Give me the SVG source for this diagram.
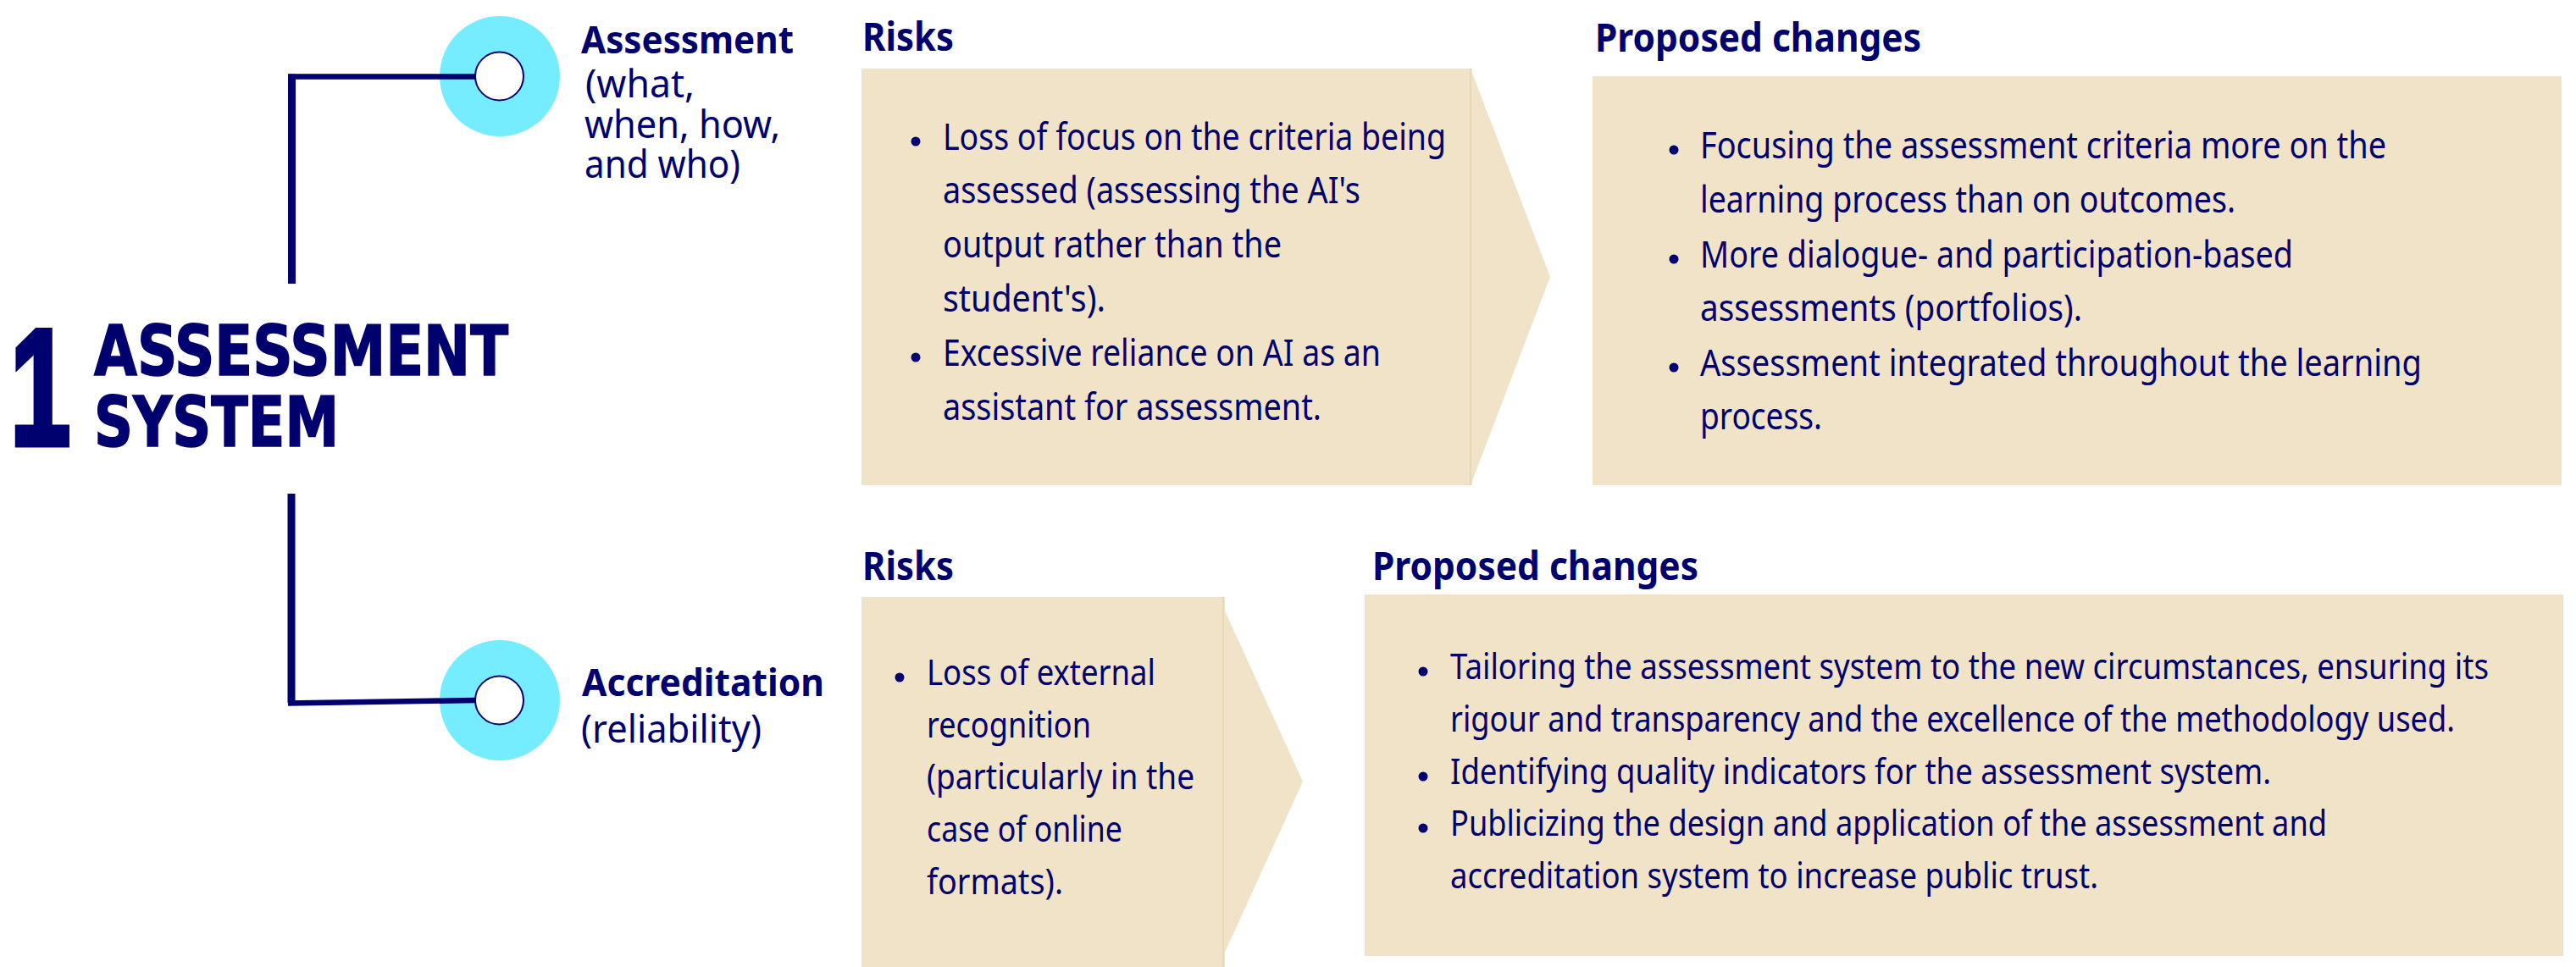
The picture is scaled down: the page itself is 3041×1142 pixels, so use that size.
<svg xmlns="http://www.w3.org/2000/svg" width="3041" height="1142" viewBox="0 0 3041 1142">
<style>
.bg{fill:#ffffff}
.box{fill:#F0E3C7}
.seam{stroke:#E9D8B4;stroke-width:2;fill:none}
.ink{fill:#00006F}
.body{font-family:"Noto Sans","Open Sans","DejaVu Sans",sans-serif;font-stretch:semi-condensed;fill:#00006F}
.b43{font-size:43px}
.b41{font-size:41px}
.head{font-family:"Noto Sans","Open Sans","DejaVu Sans",sans-serif;font-stretch:semi-condensed;font-weight:bold;font-size:46px;fill:#00006F}
.lab{font-family:"Noto Sans","Open Sans","DejaVu Sans",sans-serif;font-stretch:semi-condensed;font-size:45px;fill:#00006F}
.labb{font-weight:bold}
.title{font-family:"DejaVu Sans","Liberation Sans",sans-serif;font-stretch:condensed;font-weight:900;font-size:82px;fill:#00006F;stroke:#00006F;stroke-width:1.5}
.num{font-family:"Liberation Sans","Arial",sans-serif;font-weight:bold;font-size:194px;fill:#00006F;stroke:#00006F;stroke-width:7;stroke-linejoin:miter}
.halo{fill:#75EDFF}
.hole{fill:#ffffff;stroke:#00006F;stroke-width:2}
.conn{stroke:#00006F;fill:none}
</style>
<rect class="bg" x="0" y="0" width="3041" height="1142"/>

<g id="connectors">
  <line class="conn" x1="344.5" y1="87.5" x2="344.5" y2="335" stroke-width="9"/>
  <line class="conn" x1="340" y1="90.5" x2="562" y2="90.5" stroke-width="6.5"/>
  <line class="conn" x1="344" y1="583" x2="344" y2="830" stroke-width="9"/>
  <line class="conn" x1="340" y1="830.5" x2="562" y2="827" stroke-width="6.5"/>
</g>

<g id="title">
  <text class="num" x="0" y="525" transform="translate(12,0) scale(0.66,1)">1</text>
  <text class="title" x="111" y="443" textLength="489" lengthAdjust="spacingAndGlyphs">ASSESSMENT</text>
  <text class="title" x="111" y="527" textLength="289" lengthAdjust="spacingAndGlyphs">SYSTEM</text>
</g>

<g id="node-assessment">
  <circle class="halo" cx="590" cy="90" r="71"/>
  <line class="conn" x1="519" y1="90.5" x2="562" y2="90.5" stroke-width="6.5"/>
  <circle class="hole" cx="589.5" cy="90" r="28.5"/>
  <text class="lab labb" x="686" y="63" textLength="251" lengthAdjust="spacingAndGlyphs">Assessment</text>
  <text class="lab" x="691" y="115" textLength="129" lengthAdjust="spacingAndGlyphs">(what,</text>
  <text class="lab" x="690" y="163" textLength="231" lengthAdjust="spacingAndGlyphs">when, how,</text>
  <text class="lab" x="690" y="210" textLength="184" lengthAdjust="spacingAndGlyphs">and who)</text>
</g>

<g id="node-accreditation">
  <circle class="halo" cx="590" cy="827" r="71"/>
  <line class="conn" x1="519" y1="827.8" x2="562" y2="827" stroke-width="6.5"/>
  <circle class="hole" cx="589.5" cy="827" r="28.5"/>
  <text class="lab labb" x="687" y="822" textLength="286" lengthAdjust="spacingAndGlyphs">Accreditation</text>
  <text class="lab" x="686" y="877" textLength="213" lengthAdjust="spacingAndGlyphs">(reliability)</text>
</g>

<g id="risks-assessment">
  <text class="head" x="1018" y="60" textLength="108" lengthAdjust="spacingAndGlyphs">Risks</text>
  <rect class="box" x="1017" y="81" width="721" height="492"/>
  <polygon class="box" points="1736,81 1830,327 1736,573"/>
  <line class="seam" x1="1736" y1="81" x2="1736" y2="573"/>
  <circle class="ink" cx="1081" cy="167" r="5.5"/>
  <circle class="ink" cx="1081" cy="422" r="5.5"/>
  <text class="body b43" x="1113" y="177" textLength="594" lengthAdjust="spacingAndGlyphs">Loss of focus on the criteria being</text>
  <text class="body b43" x="1113" y="240" textLength="493" lengthAdjust="spacingAndGlyphs">assessed (assessing the AI's</text>
  <text class="body b43" x="1113" y="304" textLength="400" lengthAdjust="spacingAndGlyphs">output rather than the</text>
  <text class="body b43" x="1113" y="368" textLength="192" lengthAdjust="spacingAndGlyphs">student's).</text>
  <text class="body b43" x="1113" y="432" textLength="517" lengthAdjust="spacingAndGlyphs">Excessive reliance on AI as an</text>
  <text class="body b43" x="1113" y="496" textLength="447" lengthAdjust="spacingAndGlyphs">assistant for assessment.</text>
</g>

<g id="changes-assessment">
  <text class="head" x="1883" y="61" textLength="385" lengthAdjust="spacingAndGlyphs">Proposed changes</text>
  <rect class="box" x="1880" y="90" width="1144" height="483"/>
  <circle class="ink" cx="1976" cy="177" r="5.5"/>
  <circle class="ink" cx="1976" cy="306" r="5.5"/>
  <circle class="ink" cx="1976" cy="434" r="5.5"/>
  <text class="body b43" x="2007" y="187" textLength="810" lengthAdjust="spacingAndGlyphs">Focusing the assessment criteria more on the</text>
  <text class="body b43" x="2007" y="251" textLength="632" lengthAdjust="spacingAndGlyphs">learning process than on outcomes.</text>
  <text class="body b43" x="2007" y="316" textLength="700" lengthAdjust="spacingAndGlyphs">More dialogue- and participation-based</text>
  <text class="body b43" x="2007" y="379" textLength="451" lengthAdjust="spacingAndGlyphs">assessments (portfolios).</text>
  <text class="body b43" x="2007" y="444" textLength="852" lengthAdjust="spacingAndGlyphs">Assessment integrated throughout the learning</text>
  <text class="body b43" x="2007" y="507" textLength="144" lengthAdjust="spacingAndGlyphs">process.</text>
</g>

<g id="risks-accreditation">
  <text class="head" x="1018" y="685" textLength="108" lengthAdjust="spacingAndGlyphs">Risks</text>
  <rect class="box" x="1017" y="705" width="429" height="437"/>
  <polygon class="box" points="1444,717 1538,923 1444,1129"/>
  <line class="seam" x1="1444" y1="705" x2="1444" y2="1142"/>
  <circle class="ink" cx="1062" cy="800" r="5.5"/>
  <text class="body b41" x="1094" y="809" textLength="270" lengthAdjust="spacingAndGlyphs">Loss of external</text>
  <text class="body b41" x="1094" y="871" textLength="194" lengthAdjust="spacingAndGlyphs">recognition</text>
  <text class="body b41" x="1094" y="932" textLength="316" lengthAdjust="spacingAndGlyphs">(particularly in the</text>
  <text class="body b41" x="1094" y="994" textLength="231" lengthAdjust="spacingAndGlyphs">case of online</text>
  <text class="body b41" x="1094" y="1056" textLength="161" lengthAdjust="spacingAndGlyphs">formats).</text>
</g>

<g id="changes-accreditation">
  <text class="head" x="1620" y="685" textLength="385" lengthAdjust="spacingAndGlyphs">Proposed changes</text>
  <rect class="box" x="1611" y="702" width="1415" height="427"/>
  <circle class="ink" cx="1680" cy="793" r="5.5"/>
  <circle class="ink" cx="1680" cy="917" r="5.5"/>
  <circle class="ink" cx="1680" cy="978" r="5.5"/>
  <text class="body b41" x="1712" y="802" textLength="1226" lengthAdjust="spacingAndGlyphs">Tailoring the assessment system to the new circumstances, ensuring its</text>
  <text class="body b41" x="1712" y="864" textLength="1186" lengthAdjust="spacingAndGlyphs">rigour and transparency and the excellence of the methodology used.</text>
  <text class="body b41" x="1712" y="926" textLength="969" lengthAdjust="spacingAndGlyphs">Identifying quality indicators for the assessment system.</text>
  <text class="body b41" x="1712" y="987" textLength="1035" lengthAdjust="spacingAndGlyphs">Publicizing the design and application of the assessment and</text>
  <text class="body b41" x="1712" y="1049" textLength="765" lengthAdjust="spacingAndGlyphs">accreditation system to increase public trust.</text>
</g>
</svg>
